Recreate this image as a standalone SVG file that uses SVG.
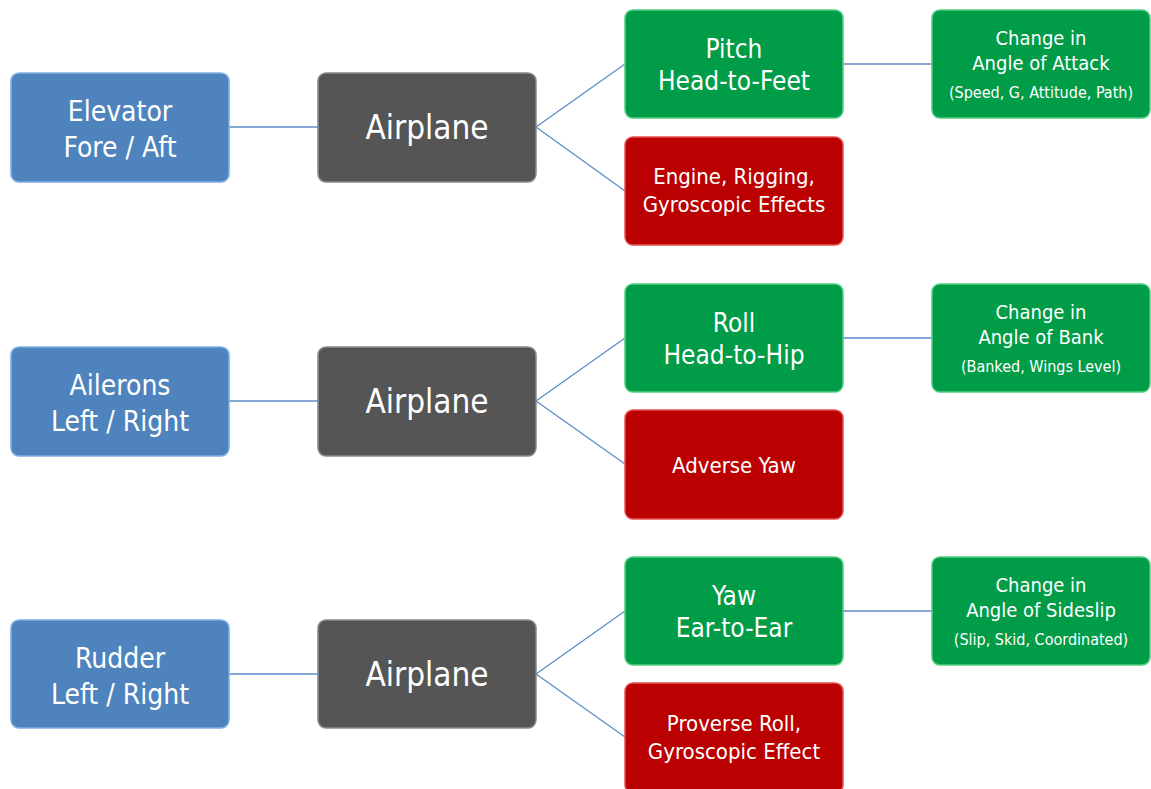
<svg xmlns="http://www.w3.org/2000/svg" width="1151" height="789" viewBox="0 0 1151 789">
<style>
text{font-family:"DejaVu Sans Condensed","DejaVu Sans","Liberation Sans",sans-serif;font-stretch:condensed;fill:#ffffff;text-anchor:middle}
.box{stroke-width:1.5}
.blue{fill:#4f83bd;stroke:#7fb0e3}
.gray{fill:#555555;stroke:#8a8a8a}
.green{fill:#009c48;stroke:#4fd080}
.red{fill:#ba0000;stroke:#e85050}
.t28{font-size:28px}
.t33{font-size:33px}
.t26{font-size:26px}
.t22{font-size:22px}
.t20{font-size:20px}
.t16{font-size:16px}
.conn line{stroke:#5b8cc8;stroke-width:1.3;fill:none}
</style>
<rect width="1151" height="789" fill="#ffffff"/>
<g id="connectors" class="conn">
<line x1="229" y1="127" x2="318" y2="127"/>
<line x1="536" y1="127" x2="625" y2="64"/>
<line x1="536" y1="127" x2="625" y2="191"/>
<line x1="843" y1="64" x2="932" y2="64"/>
<line x1="229" y1="401" x2="318" y2="401"/>
<line x1="536" y1="401" x2="625" y2="338"/>
<line x1="536" y1="401" x2="625" y2="464"/>
<line x1="843" y1="338" x2="932" y2="338"/>
<line x1="229" y1="674" x2="318" y2="674"/>
<line x1="536" y1="674" x2="625" y2="611"/>
<line x1="536" y1="674" x2="625" y2="737"/>
<line x1="843" y1="611" x2="932" y2="611"/>
</g>
<!-- Row 1 -->
<g id="elevator"><rect class="box blue" x="11" y="73" width="218" height="109" rx="8"/><text class="t28" x="120" y="121">Elevator</text><text class="t28" x="120" y="157">Fore / Aft</text></g>
<g id="airplane1"><rect class="box gray" x="318" y="73" width="218" height="109" rx="8"/><text class="t33" x="427" y="139">Airplane</text></g>
<g id="pitch"><rect class="box green" x="625" y="10" width="218" height="108" rx="8"/><text class="t26" x="734" y="58">Pitch</text><text class="t26" x="734" y="90">Head-to-Feet</text></g>
<g id="aoa"><rect class="box green" x="932" y="10" width="218" height="108" rx="8"/><text class="t20" x="1041" y="45">Change in</text><text class="t20" x="1041" y="70">Angle of Attack</text><text class="t16" x="1041" y="98">(Speed, G, Attitude, Path)</text></g>
<g id="engine"><rect class="box red" x="625" y="137" width="218" height="108" rx="8"/><text class="t22" x="734" y="184">Engine, Rigging,</text><text class="t22" x="734" y="212">Gyroscopic Effects</text></g>
<!-- Row 2 -->
<g id="ailerons"><rect class="box blue" x="11" y="347" width="218" height="109" rx="8"/><text class="t28" x="120" y="395">Ailerons</text><text class="t28" x="120" y="431">Left / Right</text></g>
<g id="airplane2"><rect class="box gray" x="318" y="347" width="218" height="109" rx="8"/><text class="t33" x="427" y="413">Airplane</text></g>
<g id="roll"><rect class="box green" x="625" y="284" width="218" height="108" rx="8"/><text class="t26" x="734" y="332">Roll</text><text class="t26" x="734" y="364">Head-to-Hip</text></g>
<g id="bank"><rect class="box green" x="932" y="284" width="218" height="108" rx="8"/><text class="t20" x="1041" y="319">Change in</text><text class="t20" x="1041" y="344">Angle of Bank</text><text class="t16" x="1041" y="372">(Banked, Wings Level)</text></g>
<g id="adverse"><rect class="box red" x="625" y="410" width="218" height="109" rx="8"/><text class="t22" x="734" y="473">Adverse Yaw</text></g>
<!-- Row 3 -->
<g id="rudder"><rect class="box blue" x="11" y="620" width="218" height="108" rx="8"/><text class="t28" x="120" y="668">Rudder</text><text class="t28" x="120" y="704">Left / Right</text></g>
<g id="airplane3"><rect class="box gray" x="318" y="620" width="218" height="108" rx="8"/><text class="t33" x="427" y="686">Airplane</text></g>
<g id="yaw"><rect class="box green" x="625" y="557" width="218" height="108" rx="8"/><text class="t26" x="734" y="605">Yaw</text><text class="t26" x="734" y="637">Ear-to-Ear</text></g>
<g id="sideslip"><rect class="box green" x="932" y="557" width="218" height="108" rx="8"/><text class="t20" x="1041" y="592">Change in</text><text class="t20" x="1041" y="617">Angle of Sideslip</text><text class="t16" x="1041" y="645">(Slip, Skid, Coordinated)</text></g>
<g id="proverse"><rect class="box red" x="625" y="683" width="218" height="110" rx="8"/><text class="t22" x="734" y="731">Proverse Roll,</text><text class="t22" x="734" y="759">Gyroscopic Effect</text></g>
</svg>
